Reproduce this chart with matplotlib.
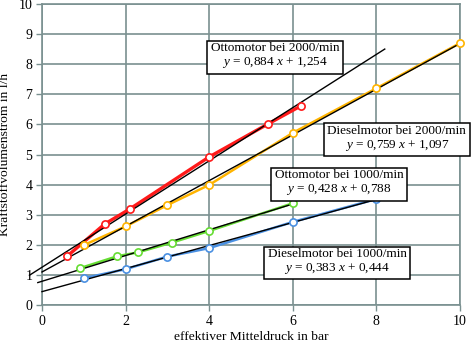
import matplotlib
matplotlib.use("Agg")
import matplotlib.pyplot as plt
import numpy as np

plt.rcParams['font.family'] = ['Liberation Serif', 'DejaVu Serif']
plt.rcParams['mathtext.fontset'] = 'custom'
plt.rcParams['mathtext.rm'] = 'Liberation Serif'
plt.rcParams['mathtext.it'] = 'Liberation Serif:italic'

# Data
otto2000_x = [0.6, 1.5, 2.1, 4.0, 5.4, 6.2]
otto2000_y = [1.62, 2.69, 3.19, 4.92, 6.01, 6.62]
diesel2000_x = [1.0, 2.0, 3.0, 4.0, 6.0, 8.0, 10.0]
diesel2000_y = [1.99, 2.61, 3.32, 3.99, 5.72, 7.2, 8.7]
otto1000_x = [0.9, 1.8, 2.3, 3.1, 4.0, 6.0]
otto1000_y = [1.22, 1.62, 1.75, 2.07, 2.46, 3.38]
diesel1000_x = [1.0, 2.0, 3.0, 4.0, 6.0, 8.0]
diesel1000_y = [0.89, 1.19, 1.61, 1.89, 2.76, 3.52]

# Trend lines: slope, intercept, x range
trend_otto2000 = (0.884, 1.254, -0.3, 8.2)
trend_diesel2000 = (0.759, 1.097, 0.0, 10.0)
trend_otto1000 = (0.428, 0.788, -0.1, 6.0)
trend_diesel1000 = (0.383, 0.444, 0.0, 8.0)

labels = ["Ottomotor bei 2000/min", "Dieselmotor bei 2000/min",
          "Ottomotor bei 1000/min", "Dieselmotor bei 1000/min"]
eqs = ["0,884", "1,254", "0,759", "1,097", "0,428", "0,788", "0,383", "0,444"]

x_ticks = [0, 2, 4, 6, 8, 10]
y_ticks = list(range(0, 11))

colors = ['#ff1a1a', '#ffb400', '#66dd33', '#4a90e2']

fig = plt.figure(figsize=(4.73, 3.45), dpi=100)
ax = fig.add_axes([42/473, 1-305/345, 418/473, 301/345])

series = [(otto2000_x, otto2000_y), (diesel2000_x, diesel2000_y),
          (otto1000_x, otto1000_y), (diesel1000_x, diesel1000_y)]
trends = [trend_otto2000, trend_diesel2000, trend_otto1000, trend_diesel1000]
lws = [2.4, 1.8, 1.8, 1.8]
for (xs, ys), c, lw in zip(series, colors, lws):
    ax.plot(xs, ys, color=c, lw=lw, zorder=2)
    ax.plot(xs, ys, 'o', ms=5.2, mfc='white', mec=c, mew=1.2, zorder=5, clip_on=False)

for m, b, x0, x1 in trends:
    xx = np.array([x0, x1])
    ax.plot(xx, m*xx + b, color='black', lw=1.0, zorder=3, clip_on=False)

box_pos = [(5.57, 8.27), (8.49, 5.52), (7.11, 4.05), (7.06, 1.43)]
for i, (lab, (bx, by)) in enumerate(zip(labels, box_pos)):
    txt = lab + "\n" + r"$\mathit{y}$ = " + eqs[2*i] + r" $\mathit{x}$ + " + eqs[2*i+1]
    ax.text(bx, by, txt, ha='center', va='center', fontsize=9.5, linespacing=1.05,
            multialignment='center', zorder=10,
            bbox=dict(boxstyle='square,pad=0.28', fc='white', ec='black', lw=1.1))

ax.set_xlim(0, 10)
ax.set_ylim(0, 10)
ax.set_xticks(x_ticks)
ax.set_yticks(y_ticks)
ax.grid(True, color='#7a9090', lw=1.2, zorder=0)
ax.set_axisbelow(True)
for s in ax.spines.values():
    s.set_color('#7a9090')
    s.set_linewidth(1.2)
ax.tick_params(axis='both', colors='#7a9090', labelcolor='black', labelsize=10,
               length=4, width=1.0, pad=3)
ax.set_xlabel("effektiver Mitteldruck in bar", fontsize=9.7, labelpad=2)
ax.set_ylabel("Kraftstoffvolumenstrom in l/h", fontsize=9.7, labelpad=5)

fig.savefig("out.png", dpi=100)
